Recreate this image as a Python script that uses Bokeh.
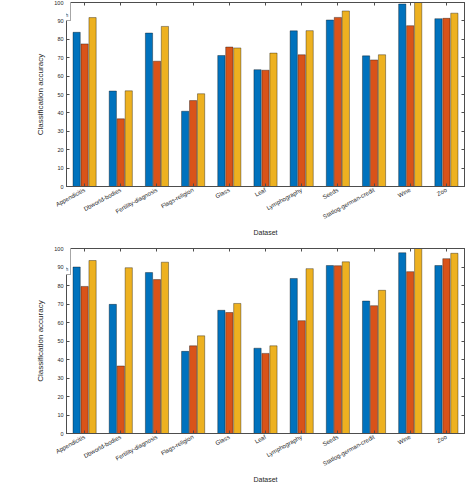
from bokeh.plotting import figure
from bokeh.models import (FactorRange, Range1d, LinearAxis, CategoricalAxis, Legend,
                          LegendItem, Label, FixedTicker)
from bokeh.transform import dodge
from bokeh.layouts import column
from bokeh.embed import file_html
from bokeh.resources import INLINE

datasets = ["Appendicitis", "Dbworld-bodies", "Fertility-diagnosis", "Flags-religion",
            "Glass", "Leaf", "Lymphography", "Seeds", "Statlog-german-credit", "Wine", "Zoo"]
series_names = ["FRPSO", "FRFS", "Proposed Approach"]
y_ticks = [0, 10, 20, 30, 40, 50, 60, 70, 80, 90, 100]

knn_frpso = [83.8, 51.9, 83.4, 40.9, 71.2, 63.5, 84.6, 90.5, 71.0, 99.2, 91.2]
knn_frfs = [77.5, 36.8, 68.1, 46.7, 75.8, 63.2, 71.6, 91.9, 68.8, 87.4, 91.4]
knn_prop = [91.8, 52.0, 87.0, 50.4, 75.3, 72.5, 84.7, 95.4, 71.6, 100.0, 94.2]

svm_frpso = [90.0, 69.8, 87.0, 44.4, 66.6, 46.1, 83.8, 90.8, 71.6, 97.7, 90.8]
svm_frfs = [79.5, 36.5, 83.2, 47.4, 65.4, 43.3, 61.0, 90.7, 69.1, 87.5, 94.5]
svm_prop = [93.5, 89.6, 92.6, 52.8, 70.3, 47.4, 89.1, 92.8, 77.4, 100.0, 97.4]

colors = ["#0072BD", "#D95319", "#EDB120"]
offsets = [-0.22, 0.0, 0.22]
AX = "#4d4d4d"
FONT = "Liberation Sans"


def make_fig(vals, letter, method, height, btop, bbot, leg_y):
    p = figure(x_range=FactorRange(*datasets), y_range=Range1d(0, 100),
               width=466, height=height, output_backend="svg", toolbar_location=None,
               min_border_left=66, min_border_right=2, min_border_top=btop,
               min_border_bottom=bbot)
    p.xgrid.visible = False
    p.ygrid.visible = False
    p.outline_line_color = AX
    p.outline_line_width = 1

    data = {"ds": datasets}
    for i, v in enumerate(vals):
        data["s%d" % i] = v
    items = []
    for i in range(3):
        r = p.vbar(x=dodge("ds", offsets[i], range=p.x_range), top="s%d" % i, width=0.2,
                   source=data, fill_color=colors[i], line_color="black",
                   line_alpha=0.45, line_width=0.8)
        items.append(LegendItem(label=series_names[i], renderers=[r]))

    leg = Legend(items=items, location=(-66, leg_y), glyph_width=15, glyph_height=5,
                 label_height=5, label_text_font_size="5.5px", label_text_font=FONT,
                 label_standoff=2, spacing=2, padding=2, margin=0,
                 border_line_color=AX, border_line_width=0.7,
                 background_fill_alpha=1.0)
    p.add_layout(leg, "center")

    xa = p.xaxis[0]
    xa.major_label_orientation = 0.5
    xa.major_label_text_font_size = "6px"
    xa.major_label_text_font = FONT
    xa.major_label_text_color = "#262626"
    xa.major_tick_in = 3
    xa.major_tick_out = 0
    xa.axis_line_color = AX
    xa.major_tick_line_color = AX
    xa.axis_label = "Dataset"
    xa.axis_label_text_font_size = "7px"
    xa.axis_label_text_font = FONT
    xa.axis_label_text_font_style = "normal"
    xa.axis_label_text_color = "#262626"
    xa.axis_label_standoff = 4
    xa.major_label_standoff = 3

    ya = p.yaxis[0]
    ya.ticker = FixedTicker(ticks=y_ticks)
    ya.minor_tick_line_color = None
    ya.major_tick_in = 3
    ya.major_tick_out = 0
    ya.major_label_text_font_size = "5.5px"
    ya.major_label_text_font = FONT
    ya.major_label_text_color = "#262626"
    ya.axis_line_color = AX
    ya.major_tick_line_color = AX
    ya.axis_label = "Classification accuracy"
    ya.axis_label_text_font_size = "8px"
    ya.axis_label_text_font = FONT
    ya.axis_label_text_font_style = "normal"
    ya.axis_label_text_color = "#262626"
    ya.axis_label_standoff = 6
    ya.major_label_standoff = 3

    ra = LinearAxis(ticker=FixedTicker(ticks=y_ticks), major_label_text_font_size="0px",
                    major_tick_in=3, major_tick_out=0, minor_tick_line_color=None,
                    axis_line_color=AX, major_tick_line_color=AX, major_label_standoff=0)
    p.add_layout(ra, "right")
    ta = CategoricalAxis(major_label_text_font_size="0px", major_tick_in=3,
                         major_tick_out=0, axis_line_color=AX, major_tick_line_color=AX,
                         major_label_standoff=0)
    p.add_layout(ta, "above")

    p.add_layout(Label(x=181, y=-bbot + 4, x_units="screen", y_units="screen",
                       text="(" + letter + ")", text_font="Liberation Serif",
                       text_font_style="bold", text_font_size="10px",
                       text_color="#111111", text_baseline="bottom", text_align="left"))
    p.add_layout(Label(x=194, y=-bbot + 4, x_units="screen", y_units="screen",
                       text=method, text_font="Liberation Serif",
                       text_font_size="8px", text_color="#333333",
                       text_baseline="bottom", text_align="left"))
    return p


p1 = make_fig([knn_frpso, knn_frfs, knn_prop], "a", "3NN", 239, 2, 51, 165)
p2 = make_fig([svm_frpso, svm_frfs, svm_prop], "b", "SVM", 247, 9, 52, 158)

layout = column(p1, p2, spacing=0)
open("out.html", "w").write(file_html(layout, INLINE))
